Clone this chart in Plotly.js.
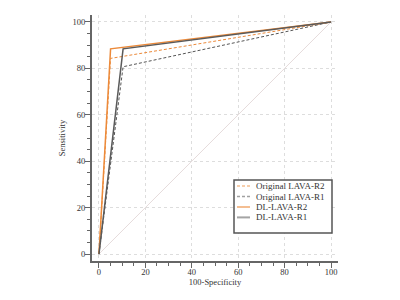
<!DOCTYPE html>
<html><head><meta charset="utf-8">
<script src="https://cdn.plot.ly/plotly-3.0.1.min.js"></script>
<style>html,body{margin:0;padding:0;background:#fff}#chart{width:400px;height:300px}</style>
</head><body><div id="chart"></div>
<script>
const origR2_x = [0, 5, 100];
const origR2_y = [0, 84.3, 100];
const origR1_x = [0, 10.4, 100];
const origR1_y = [0, 80.7, 100];
const dlR2_x = [0, 5, 100];
const dlR2_y = [0, 88.4, 100];
const dlR1_x = [0, 10.4, 100];
const dlR1_y = [0, 88.4, 100];
const diag = [0, 100];
const tickVals = [0, 20, 40, 60, 80, 100];
const seriesNames = ['Original LAVA-R2', 'Original LAVA-R1', 'DL-LAVA-R2', 'DL-LAVA-R1'];

const orange = '#EC8A3A', gray = '#5a5a5a';
const styles = [
  {color: orange, width: 1, dash: '3px,2px'},
  {color: '#555', width: 1, dash: '3px,2px'},
  {color: orange, width: 1.5},
  {color: gray, width: 1.5}
];
const xs = [origR2_x, origR1_x, dlR2_x, dlR1_x];
const ys = [origR2_y, origR1_y, dlR2_y, dlR1_y];
const traces = [
  {x: diag, y: diag, mode: 'lines', line: {color: '#E6DCDC', width: 1}, showlegend: false, hoverinfo: 'skip'}
];
seriesNames.forEach((n, i) => traces.push({x: xs[i], y: ys[i], mode: 'lines', name: n, line: styles[i], showlegend: false}));

// custom compact legend (paper coordinates derived from pixel layout)
const L = 92, W = 246, T = 15, H = 246;
const px = v => (v - L) / W, py = v => (261 - v) / H;
const shapes = [{type: 'rect', xref: 'paper', yref: 'paper', x0: px(234), x1: px(332), y0: py(233), y1: py(180),
  line: {color: '#555', width: 1.5}, fillcolor: '#fff', layer: 'above'}];
const annotations = [];
const rowY = [186, 196.6, 207, 217.4];
seriesNames.forEach((n, i) => {
  shapes.push({type: 'line', xref: 'paper', yref: 'paper', x0: px(237), x1: px(250), y0: py(rowY[i]), y1: py(rowY[i]),
    line: {color: styles[i].color, width: styles[i].width + 0.5, dash: styles[i].dash || 'solid'}, opacity: 0.55, layer: 'above'});
  annotations.push({xref: 'paper', yref: 'paper', x: px(254.5), y: py(rowY[i]), xanchor: 'left', yanchor: 'middle',
    text: n, showarrow: false, font: {family: 'Liberation Serif', size: 9, color: '#333'}, borderpad: 0});
});

const axBase = {
  range: [-3, 103], tickvals: tickVals, ticks: 'outside', ticklen: 5, tickcolor: '#666',
  showline: true, linecolor: '#666', linewidth: 2, zeroline: false,
  showgrid: true, gridcolor: '#dddddd', griddash: 'dot', gridwidth: 1,
  minor: {dtick: 5, ticks: 'outside', ticklen: 3, tickcolor: '#666', showgrid: false},
  tickfont: {family: 'Liberation Serif', size: 8.5, color: '#333'}
};
const layout = {
  width: 400, height: 300,
  margin: {l: L, r: 400 - L - W, t: T, b: 300 - T - H},
  paper_bgcolor: '#fff', plot_bgcolor: '#fff',
  font: {family: 'Liberation Serif', color: '#333'},
  xaxis: Object.assign({}, axBase, {ticklabelstandoff: -3, title: {text: '100-Specificity', font: {size: 8.5}, standoff: 2}}),
  yaxis: Object.assign({}, axBase, {ticklabelstandoff: -2, title: {text: 'Sensitivity', font: {size: 8.5}, standoff: 6}}),
  shapes: shapes, annotations: annotations,
  showlegend: false
};
Plotly.newPlot('chart', traces, layout, {displayModeBar: false, staticPlot: true});
</script></body></html>
